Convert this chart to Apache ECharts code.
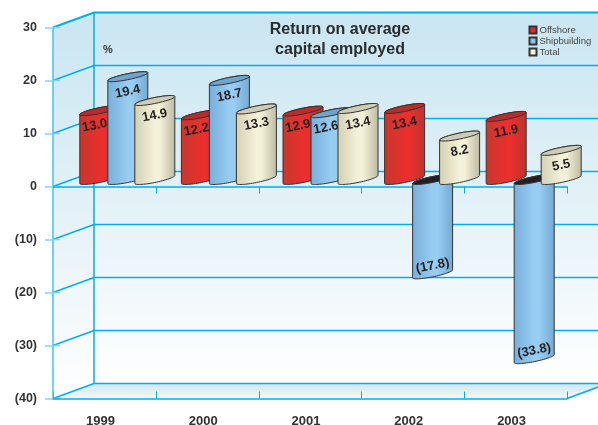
<!DOCTYPE html>
<html>
<head>
<meta charset="utf-8">
<style>
  html, body { margin: 0; padding: 0; background: #fff; }
  #chart { width: 598px; height: 425px; }
</style>
<script src="https://cdn.jsdelivr.net/npm/echarts@6/dist/echarts.min.js"></script>
</head>
<body>
<div id="chart"></div>
<script>
var years = ['1999', '2000', '2001', '2002', '2003'];
var offshore = [13.0, 12.2, 12.9, 13.4, 11.9];
var shipbuilding = [19.4, 18.7, 12.6, -17.8, -33.8];
var total = [14.9, 13.3, 13.4, 8.2, 5.5];
var yTicks = [30, 20, 10, 0, -10, -20, -30, -40];

var FONT = '"Liberation Sans", Arial, sans-serif';
var LINE = '#00aeef';
var depthX = 41, depthY = 15;   // back wall offset
var barDepth = 7;               // cylinders stand this far behind the front edge
var radius = 20, minor = 3, skew = 0.2;

// ellipse outline, t from t0 to t1 (left = PI, right = 0)
function arc(cx, cy, t0, t1) {
  var pts = [];
  for (var i = 0; i <= 32; i++) {
    var t = t0 + (t1 - t0) * i / 32;
    pts.push([cx + radius * Math.cos(t), cy + minor * Math.sin(t) - skew * radius * Math.cos(t)]);
  }
  return pts;
}

function bodyFill(stops) {
  return {
    type: 'linear', x: 0, y: 0, x2: 1, y2: 0,
    colorStops: [
      { offset: 0, color: stops[0] },
      { offset: 0.5, color: stops[1] },
      { offset: 0.62, color: stops[1] },
      { offset: 1, color: stops[2] }
    ]
  };
}

function cylinder(look, front, seriesZ) {
  return function (params, api) {
    var i = api.value(0), v = api.value(1);
    var base = api.coord([i, 0]);
    var end = api.coord([i, v]);
    var cx = base[0] + look.dx;
    var y0 = base[1] - barDepth;
    var y1 = end[1] - barDepth;
    var neg = v < 0;
    var z = neg ? 1 : seriesZ;

    // body: lower half of the bottom ellipse, closed along the top one
    var lower = neg ? y1 : y0, upper = neg ? y0 : y1;
    var outline = arc(cx, lower, Math.PI, 0).concat(arc(cx, upper, 0, -Math.PI));
    var cap = arc(cx, upper, 0, Math.PI * 2);

    var shifted = front && front[i] > v - 3 && !neg;
    var label = neg ? '(' + Math.abs(v).toFixed(1) + ')' : v.toFixed(1);
    return {
      type: 'group',
      children: [
        {
          type: 'polygon', z2: z,
          shape: { points: outline },
          style: { fill: bodyFill(look.body), stroke: '#333', lineWidth: 1 }
        },
        {
          type: 'polygon', z2: z,
          shape: { points: cap },
          style: { fill: neg ? '#231f20' : look.cap, stroke: '#333', lineWidth: 1 }
        },
        {
          type: 'text', z2: z,
          x: cx - (shifted ? 5 : 0), y: neg ? y1 - 8 : y1 + 15,
          rotation: 0.2,
          style: {
            text: label, fill: '#231f20', align: 'center', verticalAlign: 'middle',
            font: 'bold 13px ' + FONT
          }
        }
      ]
    };
  };
}

function frame(params, api) {
  var g = params.coordSys;
  var x0 = g.x, x1 = g.x + g.width, yTop = g.y, yBot = g.y + g.height;
  var bx = x0 + depthX, right = api.getWidth();
  var yZero = api.coord([0, 0])[1];
  var fade = [{ offset: 0, color: '#c9e6f2' }, { offset: 0.5, color: '#e3f1f7' }, { offset: 1, color: '#ffffff' }];
  var children = [
    { type: 'rect', shape: { x: bx, y: yTop - depthY, width: right - bx, height: g.height },
      style: { fill: { type: 'linear', x: 0, y: 0, x2: 0, y2: 1, colorStops: fade } } },
    { type: 'polygon', shape: { points: [[x0, yTop], [bx, yTop - depthY], [bx, yBot - depthY], [x0, yBot]] },
      style: { fill: { type: 'linear', x: 0, y: 0, x2: 0, y2: 1, colorStops: fade } } },
    { type: 'polygon', shape: { points: [[x0, yBot], [bx, yBot - depthY], [right, yBot - depthY], [x1 + depthX, yBot - depthY], [x1, yBot]] },
      style: { fill: { type: 'linear', x: 0, y: 0, x2: 0, y2: 1,
        colorStops: [{ offset: 0, color: '#cfe6f1' }, { offset: 1, color: '#f3f9fb' }] } } },
    { type: 'line', shape: { x1: bx, y1: yTop - depthY, x2: bx, y2: yBot - depthY },
      style: { stroke: LINE, lineWidth: 1.5 } },
    { type: 'line', shape: { x1: x1, y1: yBot, x2: x1 + depthX, y2: yBot - depthY },
      style: { stroke: LINE, lineWidth: 1.5 } }
  ];
  yTicks.forEach(function (t, n) {
    var y = api.coord([0, t])[1];
    var w = n === 0 ? 2 : 1.5;
    children.push({ type: 'polyline',
      shape: { points: [[x0, y], [bx, y - depthY], [right, y - depthY]] },
      style: { fill: 'none', stroke: LINE, lineWidth: w } });
    children.push({ type: 'line', shape: { x1: x0, y1: y, x2: x0 + 7, y2: y },
      style: { stroke: '#7fd6f2', lineWidth: 1.5 } });
  });
  // upper half of the ticks on the bottom edge, and the ticks under the zero line
  var band = g.width / years.length;
  for (var i = 0; i <= years.length; i++) {
    var tx = Math.round(x0 + band * i) + 0.5;
    children.push({ type: 'line', shape: { x1: tx, y1: yBot, x2: tx, y2: yBot - 7 },
      style: { stroke: LINE, lineWidth: 1 } });
    if (i > 0) {
      children.push({ type: 'line', shape: { x1: tx, y1: yZero, x2: tx, y2: yZero + 7 },
        style: { stroke: LINE, lineWidth: 1 } });
    }
  }
  return { type: 'group', children: children };
}

function pairs(values) {
  return values.map(function (v, i) { return [i, v]; });
}

var looks = {
  offshore: { dx: -28, body: ['#c4392e', '#ea2f2d', '#bd342b'], cap: '#b92c29' },
  ship: { dx: 0, body: ['#78aed9', '#97cdf2', '#74a9d3'], cap: '#6fa4cf' },
  total: { dx: 27, body: ['#d4d0b4', '#f4f1d9', '#bdbaa0'], cap: '#cfccb6' }
};

var myChart = echarts.init(document.getElementById('chart'));
var option = {
  animation: false,
  title: [
    {
      text: 'Return on average\ncapital employed',
      left: 335, top: 15, textAlign: 'center',
      textStyle: { fontFamily: FONT, fontSize: 16, fontWeight: 'bold', color: '#2b2b2b', lineHeight: 20 }
    },
    {
      text: '%', left: 98, top: 39,
      textStyle: { fontFamily: FONT, fontSize: 11, fontWeight: 'bold', color: '#333' }
    }
  ],
  legend: {
    orient: 'vertical', left: 528.5, top: 25, padding: 0,
    itemWidth: 7, itemHeight: 7, itemGap: 1,
    icon: 'rect',
    textStyle: { fontFamily: FONT, fontSize: 9.5, color: '#444', padding: [0, 0, 0, -2] },
    data: ['Offshore', 'Shipbuilding', 'Total']
  },
  grid: [
    { left: 53, right: 31, top: 27.5, bottom: 26.5, outerBoundsMode: 'none' },
    { left: 77, width: 508, top: 27.5, bottom: 26.5, outerBoundsMode: 'none' }
  ],
  xAxis: [
    {
      type: 'category', data: years, gridIndex: 0, position: 'bottom',
      axisLine: { onZero: false, lineStyle: { color: LINE, width: 1.5 } },
      axisTick: { length: 7, lineStyle: { color: LINE } },
      axisLabel: { margin: 16, padding: [0, 8, 0, 0], fontFamily: FONT, fontSize: 13, fontWeight: 'bold', color: '#333' }
    },
    {
      type: 'category', data: years, gridIndex: 0, position: 'top',
      axisLine: { onZero: true, lineStyle: { color: LINE, width: 1.5 } },
      axisTick: { show: false },
      axisLabel: { show: false }
    },
    { type: 'category', data: years, gridIndex: 1, show: false }
  ],
  yAxis: [
    {
      type: 'value', gridIndex: 0, min: -40, max: 30, interval: 10,
      axisLine: { show: true, lineStyle: { color: '#45c2ee', width: 1.5 } },
      axisTick: { show: true, length: 8, lineStyle: { color: '#7fd6f2', width: 1.5 } },
      splitLine: { show: false },
      axisLabel: {
        margin: 16, fontFamily: FONT, fontSize: 12.5, fontWeight: 'bold', color: '#333',
        formatter: function (v) { return v < 0 ? '(' + Math.abs(v) + ')' : v; }
      }
    },
    { type: 'value', gridIndex: 1, min: -40, max: 30, interval: 10, show: false }
  ],
  series: [
    { type: 'custom', name: 'frame', xAxisIndex: 0, yAxisIndex: 0, z: -1, silent: true, clip: false,
      renderItem: frame, data: [[0, 0]] },
    { type: 'custom', name: 'Offshore', xAxisIndex: 2, yAxisIndex: 1, clip: false,
      itemStyle: { color: '#e8292b', borderColor: '#333', borderWidth: 1 },
      renderItem: cylinder(looks.offshore, shipbuilding, 2), data: pairs(offshore) },
    { type: 'custom', name: 'Shipbuilding', xAxisIndex: 2, yAxisIndex: 1, clip: false,
      itemStyle: { color: '#8fc4ea', borderColor: '#333', borderWidth: 1 },
      renderItem: cylinder(looks.ship, total, 3), data: pairs(shipbuilding) },
    { type: 'custom', name: 'Total', xAxisIndex: 2, yAxisIndex: 1, clip: false,
      itemStyle: { color: '#f4f0d2', borderColor: '#333', borderWidth: 1 },
      renderItem: cylinder(looks.total, null, 4), data: pairs(total) }
  ]
};
myChart.setOption(option, true);
window.addEventListener('resize', function () {
  myChart.resize();
});
</script>
</body>
</html>
